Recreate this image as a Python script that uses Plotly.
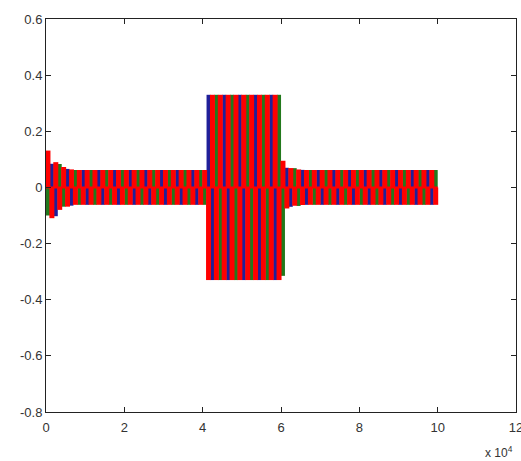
import numpy as np
import plotly.graph_objects as go

# ---- data (x in samples, y in per-unit current) ----
env_x    = [0, 800, 2000, 4000, 7000, 40600, 41200, 60000, 60300, 60700, 61500, 63000, 66000, 100000]
red_hi   = [0.15, 0.12, 0.095, 0.075, 0.062, 0.062, 0.33, 0.33, 0.10, 0.09, 0.075, 0.066, 0.062, 0.062]
red_lo   = [-0.17, -0.13, -0.095, -0.075, -0.062, -0.062, -0.33, -0.33, -0.10, -0.09, -0.075, -0.066, -0.062, -0.062]
green_hi = [0.18, 0.14, 0.10, 0.078, 0.062, 0.062, 0.33, 0.33, 0.115, 0.10, 0.085, 0.07, 0.062, 0.062]
green_lo = [-0.10, -0.10, -0.085, -0.07, -0.062, -0.062, -0.33, -0.33, -0.33, -0.30, -0.10, -0.07, -0.062, -0.062]
blue_hi  = [0.08, 0.09, 0.08, 0.07, 0.062, 0.062, 0.33, 0.33, 0.09, 0.08, 0.07, 0.065, 0.062, 0.062]
blue_lo  = [-0.18, -0.15, -0.11, -0.08, -0.062, -0.062, -0.33, -0.33, -0.09, -0.08, -0.075, -0.066, -0.062, -0.062]

stripe_pitch = 2000          # apparent cycle spacing of the aliased waveform
x_end = 100000

x_tickvals = [0, 20000, 40000, 60000, 80000, 100000, 120000]
x_ticktext = ['0', '2', '4', '6', '8', '10', '12']
y_tickvals = [0.6, 0.4, 0.2, 0, -0.2, -0.4, -0.6, -0.8]
y_ticktext = ['0.6', '0.4', '0.2', '0', '-0.2', '-0.4', '-0.6', '-0.8']

colors = {'blue': '#1f1f9a', 'green': '#22791c', 'red': '#ff0000'}


def stripes(x_up, hi, lo):
    """positive half-cycle at x, negative half-cycle half a pitch later"""
    xs, ys = [], []
    for xv in x_up:
        if 0 <= xv <= x_end:
            xs += [xv, xv, None]
            ys += [0, float(np.interp(xv, env_x, hi)), None]
        xd = xv + stripe_pitch / 2
        if 0 <= xd <= x_end:
            xs += [xd, xd, None]
            ys += [float(np.interp(xd, env_x, lo)), 0, None]
    return xs, ys


P = stripe_pitch
red_x = np.arange(P / 4, x_end + 1, P)                    # 500 + 2000k
blue_x = np.arange(3 * P / 4, x_end + 1, 2 * P)           # 1500 + 4000k
green_x = np.arange(7 * P / 4 - 2 * P, x_end + 1, 2 * P)  # -500 + 4000k

fig = go.Figure()
for name, xs0, hi, lo, w in [('blue', blue_x, blue_hi, blue_lo, 4),
                             ('green', green_x, green_hi, green_lo, 4),
                             ('red', red_x, red_hi, red_lo, 5)]:
    xs, ys = stripes(xs0, hi, lo)
    fig.add_trace(go.Scatter(x=xs, y=ys, mode='lines', name=name,
                             line=dict(color=colors[name], width=w),
                             connectgaps=False, hoverinfo='skip', showlegend=False))
# zero-crossing seam of the waveform
fig.add_trace(go.Scatter(x=[0, x_end], y=[0, 0], mode='lines',
                         line=dict(color=colors['red'], width=2),
                         hoverinfo='skip', showlegend=False))

axis_common = dict(showgrid=False, zeroline=False, showline=True, linecolor='#222222',
                   linewidth=1, mirror='ticks', ticks='inside', ticklen=5, automargin=False,
                   ticklabeloverflow='allow',
                   tickcolor='#222222', tickfont=dict(family='Arial, Liberation Sans', size=13,
                                                      color='#333333'))
fig.update_xaxes(range=[0, 120000], tickvals=x_tickvals, ticktext=x_ticktext,
                 ticklabelstandoff=3, **axis_common)
fig.update_yaxes(range=[-0.8, 0.6], tickvals=y_tickvals, ticktext=y_ticktext, **axis_common)

fig.add_annotation(text='x 10<sup>4</sup>', xref='paper', yref='paper', x=0.995, y=-0.125,
                   xanchor='right', yanchor='bottom', showarrow=False, borderpad=0,
                   font=dict(family='Arial, Liberation Sans', size=12, color='#333333'))

fig.update_layout(width=521, height=461, margin=dict(l=46, r=5, t=19, b=49),
                  plot_bgcolor='white', paper_bgcolor='white')

fig.write_html('out.html', config={'displayModeBar': False},
               post_script="document.body.style.margin='0';")
